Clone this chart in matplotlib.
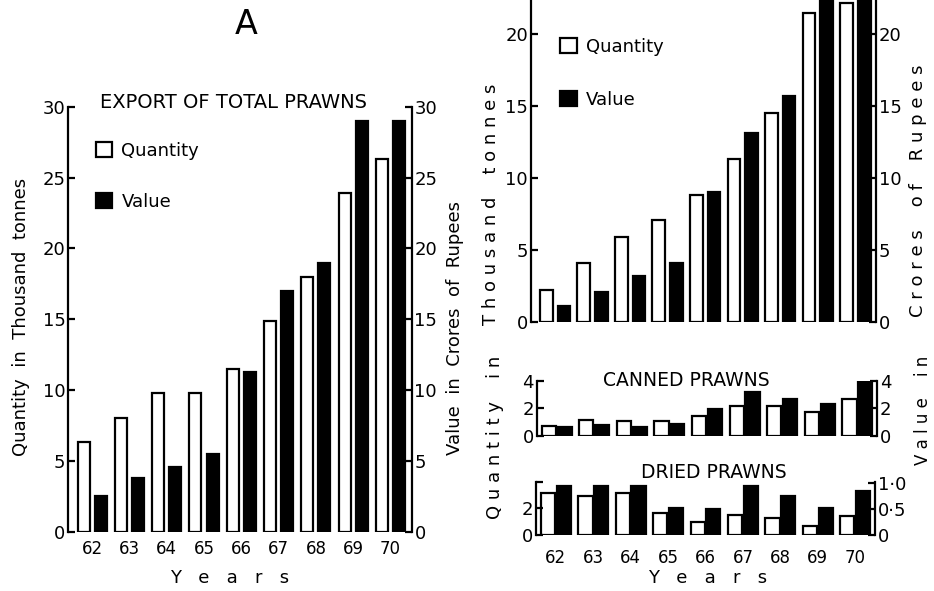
import matplotlib
matplotlib.use('Agg')
from matplotlib import pyplot as plt
from matplotlib.ticker import FixedLocator
import numpy as np

years = ['62', '63', '64', '65', '66', '67', '68', '69', '70']

# export of total prawns (left chart, A)
total_qty = [6.3, 8.0, 9.8, 9.8, 11.5, 14.9, 18.0, 23.9, 26.3]
total_val = [2.5, 3.8, 4.6, 5.5, 11.3, 17.0, 19.0, 29.0, 29.0]

# frozen prawns (right chart, top part cut off)
frozen_qty = [2.2, 4.1, 5.9, 7.1, 8.8, 11.3, 14.5, 21.5, 22.2]
frozen_val = [1.1, 2.1, 3.2, 4.1, 9.0, 13.1, 15.7, 24.0, 24.0]

canned_qty = [0.72, 1.15, 1.05, 1.05, 1.45, 2.2, 2.2, 1.7, 2.65]
canned_val = [0.67, 0.77, 0.63, 0.84, 1.95, 3.15, 2.7, 2.3, 4.05]

dried_qty = [3.05, 2.88, 3.05, 1.63, 0.98, 1.46, 1.27, 0.66, 1.39]
dried_val = [0.95, 0.95, 0.95, 0.52, 0.50, 0.95, 0.75, 0.52, 0.85]

plt.rcParams['font.family'] = ['DejaVu Sans']
FS = 13   # y tick labels
FSX = 12  # x tick labels
LW = 1.6


def spaced(s):
    return ' '.join(s).replace('   ', '    ')


def make_panel(rect, qty, val, xlim, width, off, ylim_l, ylim_r, ticks_l, ticks_r,
               labels_r=None, xticks=False, xpad=6):
    ax = fig.add_axes(rect)
    ax2 = ax.twinx()
    x = np.arange(len(years))
    ax.bar(x - off, qty, width, facecolor='white', edgecolor='black', linewidth=LW)
    ax2.bar(x + off, val, width, facecolor='black', edgecolor='black', linewidth=LW)
    ax.set_xlim(*xlim)
    ax.set_ylim(*ylim_l)
    ax2.set_ylim(*ylim_r)
    for s in ['top', 'bottom', 'right']:
        ax.spines[s].set_visible(False)
    for s in ['top', 'bottom', 'left']:
        ax2.spines[s].set_visible(False)
    ax.spines['left'].set_linewidth(LW)
    ax2.spines['right'].set_linewidth(LW)
    ax.set_yticks(ticks_l)
    ax2.set_yticks(ticks_r)
    if labels_r is not None:
        ax2.set_yticklabels(labels_r)
    ax.tick_params(axis='y', direction='in', length=5, width=LW, pad=2, labelsize=FS)
    ax2.tick_params(axis='y', direction='in', length=5, width=LW, pad=2, labelsize=FS)
    ax.set_xticks(x)
    if xticks:
        ax.set_xticklabels(years)
        ax.tick_params(axis='x', length=0, pad=xpad, labelsize=FSX)
    else:
        ax.tick_params(axis='x', length=0, labelbottom=False)
    ax.set_zorder(ax2.get_zorder() + 1)
    ax.patch.set_visible(False)
    return ax, ax2


fig = plt.figure(figsize=(9.34, 5.91), dpi=100)
W, H = 934.0, 591.0


def rect(x0, x1, y_bottom, y_top):
    return [x0 / W, 1 - y_bottom / H, (x1 - x0) / W, (y_bottom - y_top) / H]


# ---- A: total prawns
axA, axA2 = make_panel(rect(68.3, 411.7, 531.7, 106.7), total_qty, total_val,
                       (-0.64, 8.57), 0.32, 0.23, (0, 30), (0, 30),
                       range(0, 31, 5), range(0, 31, 5), xticks=True, xpad=6)
axA.legend(axA.containers[:1] + axA2.containers[:1], ['Quantity', 'Value'],
           loc='upper left', bbox_to_anchor=(0.06, 0.935), frameon=False,
           handlelength=0.9, handleheight=0.9, handletextpad=0.5,
           labelspacing=1.85, fontsize=13, borderaxespad=0)
fig.text(246 / W, 1 - 24 / H, 'A', fontsize=24, ha='center', va='center')
fig.text(234 / W, 1 - 103 / H, 'EXPORT OF TOTAL PRAWNS', fontsize=14, ha='center', va='center')
fig.text(21 / W, 1 - 317 / H, 'Quantity  in  Thousand  tonnes', fontsize=13,
         rotation=90, ha='center', va='center')
fig.text(455 / W, 1 - 328 / H, 'Value  in  Crores  of  Rupees', fontsize=13,
         rotation=90, ha='center', va='center')
fig.text(230 / W, 1 - 578 / H, '   '.join('Years'), fontsize=13, ha='center', va='center')

# ---- right: frozen (top), canned, dried
axF, axF2 = make_panel(rect(530.7, 876, 321.7, 0), frozen_qty, frozen_val,
                       (-0.65, 8.55), 0.34, 0.235, (0, 22.39), (0, 22.39),
                       range(0, 21, 5), range(0, 21, 5))
axF.legend(axF.containers[:1] + axF2.containers[:1], ['Quantity', 'Value'],
           loc='upper left', bbox_to_anchor=(0.065, 0.905), frameon=False,
           handlelength=0.9, handleheight=0.9, handletextpad=0.5,
           labelspacing=1.95, fontsize=13, borderaxespad=0)

axC, axC2 = make_panel(rect(536.7, 877.3, 436, 380.7), canned_qty, canned_val,
                       (-0.53, 8.53), 0.38, 0.21, (0, 4), (0, 4),
                       [0, 2, 4], [0, 2, 4])
fig.text(686 / W, 1 - 380 / H, 'CANNED PRAWNS', fontsize=13.5, ha='center', va='center')

axD, axD2 = make_panel(rect(536, 875, 535, 482), dried_qty, dried_val,
                       (-0.53, 8.53), 0.38, 0.21, (0, 3.88), (0, 1.025),
                       [0, 2], [0, 0.5, 1.0], labels_r=['0', '0·5', '1·0'],
                       xticks=True, xpad=10)
axD.yaxis.set_minor_locator(FixedLocator([3.85]))
axD.tick_params(axis='y', which='minor', direction='in', length=5, width=LW)
fig.text(714 / W, 1 - 473 / H, 'DRIED PRAWNS', fontsize=13.5, ha='center', va='center')

fig.text(491 / W, 1 - 204 / H, spaced('Thousand tonnes'), fontsize=13,
         rotation=90, ha='center', va='center')
fig.text(918 / W, 1 - 191 / H, spaced('Crores of Rupees'), fontsize=13,
         rotation=90, ha='center', va='center')
fig.text(495 / W, 1 - 437 / H, spaced('Quantity in'), fontsize=13,
         rotation=90, ha='center', va='center')
fig.text(923 / W, 1 - 410 / H, spaced('Value in'), fontsize=12,
         rotation=90, ha='center', va='center')
fig.text(708 / W, 1 - 578 / H, '   '.join('Years'), fontsize=13, ha='center', va='center')

fig.savefig('out.png', dpi=100)
